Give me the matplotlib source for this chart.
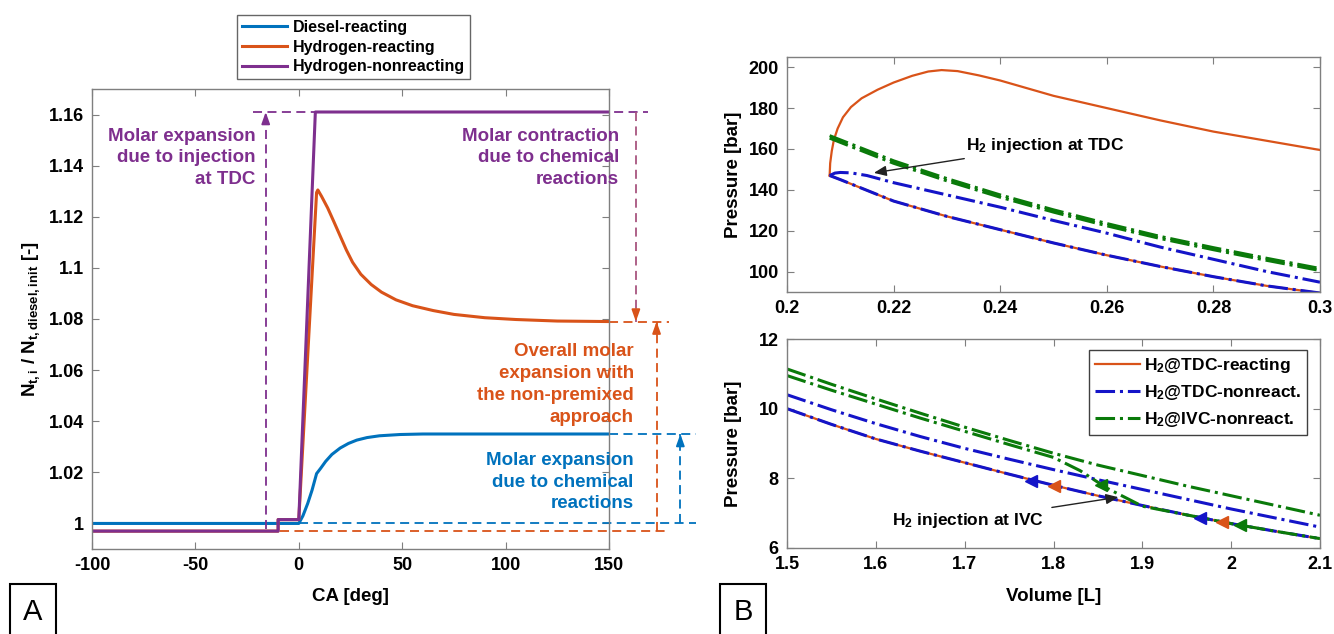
import matplotlib
matplotlib.use("Agg")
import matplotlib.pyplot as plt
from matplotlib.ticker import FuncFormatter

plt.rcParams['font.family'] = ['Liberation Sans', 'DejaVu Sans']
plt.rcParams['font.weight'] = 'bold'
plt.rcParams['axes.labelweight'] = 'bold'
plt.rcParams['mathtext.fontset'] = 'custom'
plt.rcParams['mathtext.rm'] = 'Liberation Sans:bold'
plt.rcParams['mathtext.it'] = 'Liberation Sans:bold'
plt.rcParams['mathtext.bf'] = 'Liberation Sans:bold'
plt.rcParams['axes.unicode_minus'] = False

# datos panel A --------------------------------------------------------------
ca_diesel = [-100, 0, 2, 4.3, 6.4, 8.6, 10.5, 13, 16, 20, 24, 28, 33, 39, 49, 60, 100, 150]
n_diesel = [1.0, 1.0, 1.003, 1.0078, 1.013, 1.0195, 1.0215, 1.0243, 1.027, 1.0295, 1.0313,
            1.0326, 1.0336, 1.0343, 1.0348, 1.035, 1.035, 1.035]

ca_h2_react = [-100, -10, -10, 0, 8.6, 9.2, 11, 14, 17, 20, 23, 26, 30, 35, 40, 47, 55,
               65, 75, 90, 105, 125, 150]
n_h2_react = [0.997, 0.997, 1.0015, 1.0015, 1.1295, 1.1305, 1.128, 1.1234, 1.118, 1.1125,
              1.107, 1.1022, 1.0975, 1.0935, 1.0905, 1.0875, 1.0852, 1.0833, 1.0818,
              1.0805, 1.0798, 1.0792, 1.079]

ca_h2_nonreact = [-100, -10, -10, 0, 8, 150]
n_h2_nonreact = [0.997, 0.997, 1.0015, 1.0015, 1.161, 1.161]

# datos panel B arriba (cerca de TDC) ---------------------------------------
v_comp_tdc = [0.208, 0.21, 0.22, 0.23, 0.24, 0.25, 0.26, 0.27, 0.28, 0.29, 0.30]
p_comp_tdc = [147, 145, 134.5, 127, 120.5, 114, 108, 102.5, 97.5, 93, 89.5]

v_exp_react = [0.208, 0.2081, 0.2084, 0.2088, 0.2095, 0.2105, 0.212, 0.214, 0.217, 0.22,
               0.2235, 0.2265, 0.229, 0.232, 0.236, 0.24, 0.25, 0.26, 0.27, 0.28, 0.29, 0.30]
p_exp_react = [147, 153, 159, 164.5, 170, 175.5, 180.5, 184.8, 189, 192.5,
               195.8, 197.9, 198.6, 198.1, 196, 193.5, 186, 180, 174, 168.5, 164, 159.5]

v_exp_nonreact = [0.208, 0.209, 0.21, 0.212, 0.215, 0.22, 0.23, 0.24, 0.25, 0.26, 0.27, 0.28, 0.29, 0.30]
p_exp_nonreact = [147, 148.2, 148.5, 148.3, 147, 143.5, 137.5, 131.5, 125, 118.8, 112, 106, 100, 94.8]

v_ivc_top = [0.208, 0.22, 0.23, 0.24, 0.25, 0.26, 0.27, 0.28, 0.29, 0.30]
p_ivc_top_exp = [166.5, 154.2, 145.5, 137.5, 130.2, 123.5, 117.2, 111.7, 106.5, 101.5]
p_ivc_top_comp = [165.3, 153.0, 144.4, 136.4, 129.1, 122.4, 116.2, 110.7, 105.5, 100.5]

# datos panel B abajo (cerca de IVC) ----------------------------------------
v_low = [1.5, 1.55, 1.6, 1.65, 1.7, 1.75, 1.8, 1.85, 1.9, 1.95, 2.0, 2.05, 2.1]
p_low_comp = [10.0, 9.55, 9.13, 8.78, 8.45, 8.12, 7.8, 7.5, 7.22, 6.95, 6.7, 6.48, 6.27]
p_low_exp_tdc = [10.4, 9.97, 9.57, 9.2, 8.86, 8.55, 8.25, 7.96, 7.68, 7.4, 7.12, 6.86, 6.6]
p_low_exp_ivc = [11.14, 10.7, 10.28, 9.87, 9.47, 9.09, 8.72, 8.38, 8.08, 7.78, 7.5, 7.22, 6.94]

v_ivc_comp = [1.5, 1.55, 1.6, 1.65, 1.7, 1.75, 1.8, 1.83, 1.86, 1.9, 1.95, 2.0, 2.05, 2.1]
p_ivc_comp = [10.95, 10.53, 10.13, 9.73, 9.35, 8.97, 8.6, 8.22, 7.72, 7.2, 6.95, 6.7, 6.48, 6.27]

# flechas de direccion (marcadores)
vm_tdc_nonreact = [1.775, 1.965]
pm_tdc_nonreact = [7.93, 6.86]
vm_tdc_react = [1.80, 1.99]
pm_tdc_react = [7.77, 6.74]
vm_ivc = [1.853, 2.01]
pm_ivc = [7.82, 6.66]

c_blue = '#0072BD'
c_orange = '#D95319'
c_purple = '#7E2F8E'
c_dblue = '#1414C8'
c_green = '#0A7A0A'
c_spine = '#7F7F7F'

fmt = FuncFormatter(lambda v, p: '%g' % round(v, 4))


def estilo(ax):
    ax.tick_params(direction='in', top=True, right=True, length=5, width=0.8,
                   color=c_spine, labelcolor='k', labelsize=13, pad=6)
    for s in ax.spines.values():
        s.set_color(c_spine)
        s.set_linewidth(1.0)
    ax.xaxis.set_major_formatter(fmt)
    ax.yaxis.set_major_formatter(fmt)


def punta(ax, x, y, dy, color):
    ax.annotate('', xy=(x, y), xytext=(x, y - dy),
                arrowprops=dict(arrowstyle='-|>,head_length=0.7,head_width=0.25',
                                color=color, lw=1.3, shrinkA=0, shrinkB=0),
                annotation_clip=False)


fig = plt.figure(figsize=(13.34, 6.34), dpi=100)

# Panel A ----------------------------------------------------------------------
ax1 = fig.add_axes([92/1334, 1-549/634, 517/1334, 460/634])
l1, = ax1.plot(ca_diesel, n_diesel, color=c_blue, lw=2.2)
l2, = ax1.plot(ca_h2_react, n_h2_react, color=c_orange, lw=2.2)
l3, = ax1.plot(ca_h2_nonreact, n_h2_nonreact, color=c_purple, lw=2.2)
ax1.set_xlim(-100, 150)
ax1.set_ylim(0.99, 1.17)
ax1.set_xticks([-100, -50, 0, 50, 100, 150])
ax1.set_yticks([1, 1.02, 1.04, 1.06, 1.08, 1.1, 1.12, 1.14, 1.16])
estilo(ax1)
ax1.set_xlabel('CA [deg]', fontsize=13.5)
ax1.set_ylabel(r'$N_{t,i}$ / $N_{t,diesel,init}$ [-]', fontsize=13.5)
ax1.xaxis.set_label_coords(0.5, -0.085)
ax1.yaxis.set_label_coords(-0.097, 0.5)

n_top = n_h2_nonreact[-1]
n_h2_end = n_h2_react[-1]
n_d_end = n_diesel[-1]
n_low = n_h2_react[0]
n_one = n_diesel[0]
dash = dict(ls=(0, (5, 3)), lw=1.3, clip_on=False)

ax1.plot([-22, 169], [n_top, n_top], color=c_purple, **dash)
ax1.plot([-16, -16], [0.998, n_top], color=c_purple, **dash)
punta(ax1, -16, n_top, 0.003, c_purple)
ax1.plot([163, 163], [n_top, n_h2_end], color='#A8557F', **dash)
punta(ax1, 163, n_h2_end, -0.003, c_orange)

ax1.plot([150, 179], [n_h2_end, n_h2_end], color=c_orange, **dash)
ax1.plot([-9, 179], [n_low, n_low], color=c_orange, **dash)
ax1.plot([173, 173], [n_low, n_h2_end], color=c_orange, **dash)
punta(ax1, 173, n_h2_end, 0.003, c_orange)

ax1.plot([150, 192], [n_d_end, n_d_end], color=c_blue, **dash)
ax1.plot([0, 192], [n_one, n_one], color=c_blue, **dash)
ax1.plot([184.5, 184.5], [n_one, n_d_end], color=c_blue, **dash)
punta(ax1, 184.5, n_d_end, 0.003, c_blue)

txt = dict(fontsize=13.5, fontweight='bold', ha='right', va='center', multialignment='right',
           linespacing=1.38)
ax1.text(-21, 1.143, 'Molar expansion\ndue to injection\nat TDC', color=c_purple, **txt)
ax1.text(155, 1.143, 'Molar contraction\ndue to chemical\nreactions', color=c_purple, **txt)
ax1.text(162, 1.0545, 'Overall molar\nexpansion with\nthe non-premixed\napproach', color=c_orange, **txt)
ax1.text(162, 1.0162, 'Molar expansion\ndue to chemical\nreactions', color=c_blue, **txt)

leg1 = fig.legend([l1, l2, l3], ['Diesel-reacting', 'Hydrogen-reacting', 'Hydrogen-nonreacting'],
                  loc='upper left', bbox_to_anchor=(237/1334, 1-15/634),
                  prop=dict(size=11.5, weight='bold'), fancybox=False, edgecolor='#404040',
                  handlelength=2.8, labelspacing=0.3, borderpad=0.3, handletextpad=0.4,
                  borderaxespad=0)
leg1.get_frame().set_linewidth(1.0)

# Panel B arriba --------------------------------------------------------------
ax2 = fig.add_axes([787/1334, 1-292/634, 533/1334, 235/634])
ax2.plot(v_comp_tdc, p_comp_tdc, color=c_orange, lw=1.6)
ax2.plot(v_exp_react, p_exp_react, color=c_orange, lw=1.6)
ax2.plot(v_comp_tdc, p_comp_tdc, color=c_dblue, lw=2.2, ls='-.')
ax2.plot(v_exp_nonreact, p_exp_nonreact, color=c_dblue, lw=2.2, ls='-.')
ax2.plot(v_ivc_top, p_ivc_top_exp, color=c_green, lw=2.2, ls='-.')
ax2.plot(v_ivc_top, p_ivc_top_comp, color=c_green, lw=2.2, ls='-.')
ax2.set_xlim(0.2, 0.3)
ax2.set_ylim(90, 205)
ax2.set_xticks([0.2, 0.22, 0.24, 0.26, 0.28, 0.3])
ax2.set_yticks([100, 120, 140, 160, 180, 200])
estilo(ax2)
ax2.set_ylabel('Pressure [bar]', fontsize=13.5)
ax2.yaxis.set_label_coords(-0.084, 0.5)
ax2.annotate(r'H$_2$ injection at TDC', xy=(0.2163, 148.3), xytext=(0.2335, 161.5),
             fontsize=12.5, fontweight='bold', va='center', ha='left',
             arrowprops=dict(arrowstyle='-|>,head_length=0.6,head_width=0.25', color='#222222',
                             lw=1.0, shrinkA=2, shrinkB=0))

# Panel B abajo ---------------------------------------------------------------
ax3 = fig.add_axes([787/1334, 1-548/634, 533/1334, 209/634])
h1, = ax3.plot(v_low, p_low_comp, color=c_orange, lw=1.6)
ax3.plot(v_low, p_low_comp, color=c_dblue, lw=2.2, ls='-.')
h2, = ax3.plot(v_low, p_low_exp_tdc, color=c_dblue, lw=2.2, ls='-.')
h3, = ax3.plot(v_low, p_low_exp_ivc, color=c_green, lw=2.2, ls='-.')
ax3.plot(v_ivc_comp, p_ivc_comp, color=c_green, lw=2.2, ls='-.')
ax3.plot(vm_tdc_nonreact, pm_tdc_nonreact, ls='none', marker='<', ms=9, color=c_dblue)
ax3.plot(vm_tdc_react, pm_tdc_react, ls='none', marker='<', ms=9, color=c_orange)
ax3.plot(vm_ivc, pm_ivc, ls='none', marker='<', ms=9, color=c_green)
ax3.set_xlim(1.5, 2.1)
ax3.set_ylim(6, 12)
ax3.set_xticks([1.5, 1.6, 1.7, 1.8, 1.9, 2.0, 2.1])
ax3.set_yticks([6, 8, 10, 12])
estilo(ax3)
ax3.set_xlabel('Volume [L]', fontsize=13.5)
ax3.set_ylabel('Pressure [bar]', fontsize=13.5)
ax3.xaxis.set_label_coords(0.5, -0.191)
ax3.yaxis.set_label_coords(-0.084, 0.5)
ax3.annotate(r'H$_2$ injection at IVC', xy=(1.873, 7.46), xytext=(1.618, 6.79),
             fontsize=12.5, fontweight='bold', va='center', ha='left',
             arrowprops=dict(arrowstyle='-|>,head_length=0.6,head_width=0.25', color='#222222',
                             lw=1.0, shrinkA=4, shrinkB=0))
leg3 = ax3.legend([h1, h2, h3], [r'H$_2$@TDC-reacting', r'H$_2$@TDC-nonreact.', r'H$_2$@IVC-nonreact.'],
                  loc='upper right', bbox_to_anchor=(1-13/533, 1-11/209),
                  prop=dict(size=12.5, weight='bold'), fancybox=False, edgecolor='#404040',
                  handlelength=2.6, labelspacing=0.45, borderpad=0.35, handletextpad=0.2,
                  borderaxespad=0, framealpha=1)
leg3.get_frame().set_linewidth(1.0)

# etiquetas A y B -------------------------------------------------------------
caja = dict(boxstyle='square,pad=0.47', fc='white', ec='k', lw=1.5)
fig.text(33/1334, 1-612/634, 'A', ha='center', va='center', fontsize=21, fontweight='normal', bbox=caja)
fig.text(743/1334, 1-612/634, 'B', ha='center', va='center', fontsize=21, fontweight='normal', bbox=caja)

fig.savefig('out.png', dpi=100)
